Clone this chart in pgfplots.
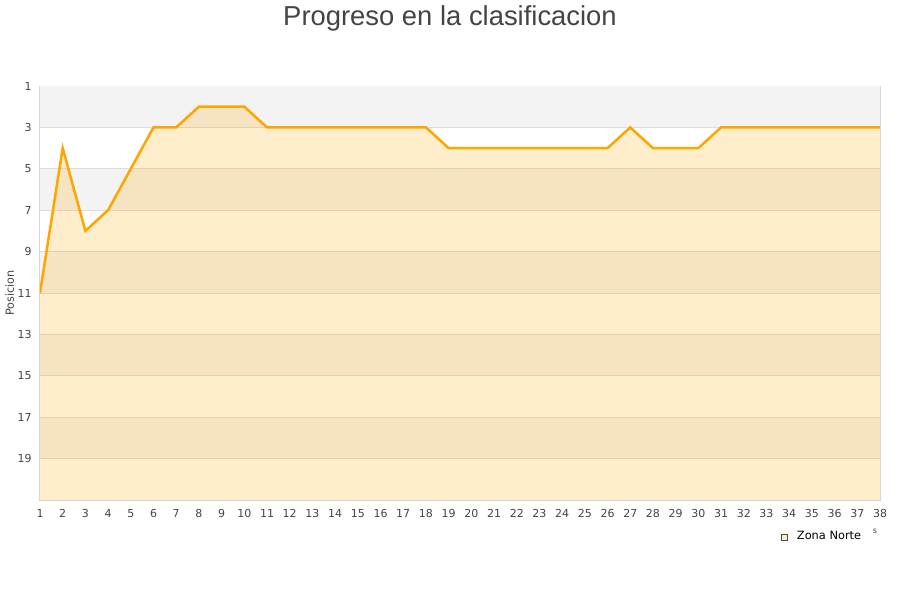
\documentclass[border=0pt]{standalone}
\usepackage{pgfplots}
\pgfplotsset{compat=1.18}
\usepackage{fontspec}
\setmainfont{DejaVu Sans}
\newfontfamily\titlefont{Liberation Sans}
\definecolor{lineorange}{HTML}{FFA500}
\definecolor{bandgray}{HTML}{F3F3F3}
\definecolor{gridgray}{HTML}{DDDDDD}
\definecolor{framegray}{HTML}{D8D8D8}
\definecolor{labelgray}{HTML}{444444}
\begin{document}
\begin{tikzpicture}
\path[use as bounding box] (0,0) rectangle (450pt,300pt);
\node[font=\titlefont\fontsize{13.7pt}{14pt}\selectfont, text=labelgray] at (225pt,291pt) {Progreso en la clasificacion};
\begin{axis}[
    at={(20pt,50pt)}, anchor=south west,
    width=420pt, height=207pt, scale only axis,
    xmin=1, xmax=38, ymin=1, ymax=21,
    y dir=reverse,
    xtick={1,...,38}, ytick={1,3,...,19},
    major tick length=0pt,
    axis line style={framegray, line width=0.5pt},
    tick label style={font=\fontsize{5.5pt}{6pt}\selectfont, text=labelgray},
    xticklabel style={yshift=-1pt},
    yticklabel style={xshift=-0.7pt},
    ylabel={Posicion},
    ylabel style={at={(axis description cs:-0.036,0.5)}, anchor=center, font=\fontsize{5.6pt}{6pt}\selectfont, text=labelgray},
    /pgf/number format/assume math mode=true,
    legend style={at={(axis description cs:0.932,-0.09)}, anchor=center, draw=none, fill=none,
        font=\fontsize{5.7pt}{6pt}\selectfont, inner sep=0pt},
    legend image code/.code={\draw[black!70, fill=lineorange!20, line width=0.3pt] (0pt,-1.7pt) rectangle (3.4pt,1.7pt);},
]
% alternating background bands
\foreach \a in {1,5,9,13,17} {
  \edef\tmp{\noexpand\fill[bandgray] (axis cs:1,\a) rectangle (axis cs:38,\a+2);}
  \tmp
}
% gridlines
\foreach \a in {3,5,...,19} {
  \edef\tmp{\noexpand\draw[gridgray, line width=0.5pt] (axis cs:1,\a) -- (axis cs:38,\a);}
  \tmp
}
% area under the curve
\addplot[draw=none, fill=lineorange, fill opacity=0.2, forget plot] coordinates {
(1,21) (1,11) (2,4) (3,8) (4,7) (5,5) (6,3) (7,3) (8,2) (9,2) (10,2)
(11,3) (12,3) (13,3) (14,3) (15,3) (16,3) (17,3) (18,3)
(19,4) (20,4) (21,4) (22,4) (23,4) (24,4) (25,4) (26,4)
(27,3) (28,4) (29,4) (30,4)
(31,3) (32,3) (33,3) (34,3) (35,3) (36,3) (37,3) (38,3) (38,21)
} -- cycle;
\addplot[lineorange, line width=1.25pt, forget plot] coordinates {
(1,11) (2,4) (3,8) (4,7) (5,5) (6,3) (7,3) (8,2) (9,2) (10,2)
(11,3) (12,3) (13,3) (14,3) (15,3) (16,3) (17,3) (18,3)
(19,4) (20,4) (21,4) (22,4) (23,4) (24,4) (25,4) (26,4)
(27,3) (28,4) (29,4) (30,4)
(31,3) (32,3) (33,3) (34,3) (35,3) (36,3) (37,3) (38,3)
};
\addlegendimage{}
\addlegendentry{\hspace{2.5pt}Zona Norte}
\end{axis}
\node[font=\fontsize{4pt}{5pt}\selectfont, text=labelgray] at (437.5pt,34.5pt) {s};
\end{tikzpicture}
\end{document}
